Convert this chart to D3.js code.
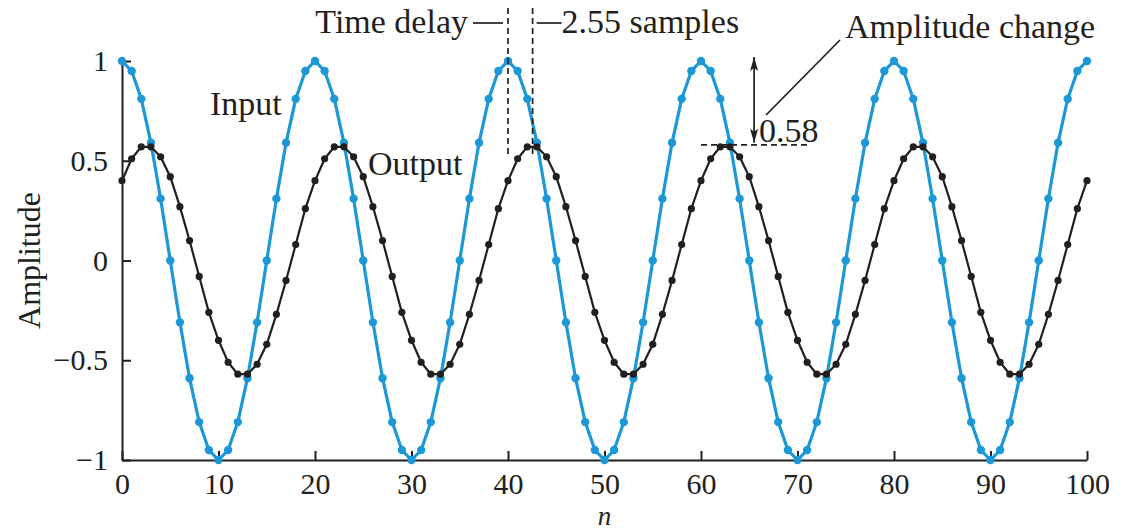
<!DOCTYPE html>
<html>
  <head>
    <meta charset="utf-8">
    <title>Time delay and amplitude change</title>
    <style>
      body { margin: 0; background: white; }
      text {
        font-family: "Liberation Serif", "Times New Roman", serif;
        fill: #231f20;
      }
      .axis path, .axis line {
        stroke: #231f20;
        stroke-width: 2;
        fill: none;
      }
      .axis text { font-size: 30px; }
      .note { font-size: 34px; }
      .guide { stroke: #231f20; stroke-width: 1.7; fill: none; }
      .dash { stroke-dasharray: 6 4; }
    </style>
    <script src="https://d3js.org/d3.v7.min.js"></script>
  </head>
  <body>
    <script>
      // sample index n = 0..100
      const samples = d3.range(0, 101);

      // input: unit-amplitude cosine, period 20 samples
      const input = [
        1, 0.95, 0.81, 0.59, 0.31, 0, -0.31, -0.59, -0.81, -0.95, -1, -0.95, -0.81, -0.59, -0.31, 0, 0.31, 0.59, 0.81, 0.95,
        1, 0.95, 0.81, 0.59, 0.31, 0, -0.31, -0.59, -0.81, -0.95, -1, -0.95, -0.81, -0.59, -0.31, 0, 0.31, 0.59, 0.81, 0.95,
        1, 0.95, 0.81, 0.59, 0.31, 0, -0.31, -0.59, -0.81, -0.95, -1, -0.95, -0.81, -0.59, -0.31, 0, 0.31, 0.59, 0.81, 0.95,
        1, 0.95, 0.81, 0.59, 0.31, 0, -0.31, -0.59, -0.81, -0.95, -1, -0.95, -0.81, -0.59, -0.31, 0, 0.31, 0.59, 0.81, 0.95,
        1, 0.95, 0.81, 0.59, 0.31, 0, -0.31, -0.59, -0.81, -0.95, -1, -0.95, -0.81, -0.59, -0.31, 0, 0.31, 0.59, 0.81, 0.95,
        1
      ];

      // output: amplitude 0.58, delayed 2.55 samples
      const output = [
        0.40, 0.51, 0.57, 0.57, 0.52, 0.42, 0.27, 0.10, -0.08, -0.26, -0.40, -0.51, -0.57, -0.57, -0.52, -0.42, -0.27, -0.10, 0.08, 0.26,
        0.40, 0.51, 0.57, 0.57, 0.52, 0.42, 0.27, 0.10, -0.08, -0.26, -0.40, -0.51, -0.57, -0.57, -0.52, -0.42, -0.27, -0.10, 0.08, 0.26,
        0.40, 0.51, 0.57, 0.57, 0.52, 0.42, 0.27, 0.10, -0.08, -0.26, -0.40, -0.51, -0.57, -0.57, -0.52, -0.42, -0.27, -0.10, 0.08, 0.26,
        0.40, 0.51, 0.57, 0.57, 0.52, 0.42, 0.27, 0.10, -0.08, -0.26, -0.40, -0.51, -0.57, -0.57, -0.52, -0.42, -0.27, -0.10, 0.08, 0.26,
        0.40, 0.51, 0.57, 0.57, 0.52, 0.42, 0.27, 0.10, -0.08, -0.26, -0.40, -0.51, -0.57, -0.57, -0.52, -0.42, -0.27, -0.10, 0.08, 0.26,
        0.40
      ];

      const xTicks = [0, 10, 20, 30, 40, 50, 60, 70, 80, 90, 100];
      const yTicks = [-1, -0.5, 0, 0.5, 1];
      const yTickLabels = ["\u22121", "\u22120.5", "0", "0.5", "1"];

      const delayStart = 40;
      const delaySamples = 2.55;
      const gainValue = 0.58;
      const gainAt = 65.5;

      const width = 1125, height = 531;
      const margin = { top: 61, right: 38, bottom: 71, left: 122 };

      const x = d3.scaleLinear().domain([0, 100]).range([margin.left, width - margin.right]);
      const y = d3.scaleLinear().domain([-1, 1]).range([height - margin.bottom, margin.top]);

      const svg = d3.select('body').append('svg')
        .attr('width', width)
        .attr('height', height);

      const defs = svg.append('defs');
      defs.append('marker')
        .attr('id', 'head')
        .attr('viewBox', '0 0 14 10')
        .attr('refX', 14).attr('refY', 5)
        .attr('markerWidth', 14).attr('markerHeight', 10)
        .attr('markerUnits', 'userSpaceOnUse')
        .attr('orient', 'auto-start-reverse')
        .append('path')
          .attr('d', 'M0,1 L14,5 L0,9 L3,5 Z')
          .attr('fill', '#231f20');

      // axes, ticks pointing inward
      svg.append('g')
        .attr('class', 'axis')
        .attr('transform', `translate(0,${y(-1)})`)
        .call(d3.axisBottom(x).tickValues(xTicks).tickSizeInner(-9).tickSizeOuter(0).tickPadding(13).tickFormat(d3.format('d')));

      svg.append('g')
        .attr('class', 'axis')
        .attr('transform', `translate(${x(0)},0)`)
        .call(d3.axisLeft(y).tickValues(yTicks).tickSizeInner(-9).tickSizeOuter(0).tickPadding(14)
          .tickFormat((d, i) => yTickLabels[i]));

      svg.selectAll('.axis .domain').attr('stroke-width', 2.4);

      // series
      const line = d3.line().x(d => x(d[0])).y(d => y(d[1]));
      const series = [
        { vals: input, color: '#1b98d5', width: 3.2, r: 4.2 },
        { vals: output, color: '#231f20', width: 2.2, r: 3.6 }
      ];
      series.forEach(s => {
        const pts = samples.map((n, i) => [n, s.vals[i]]);
        svg.append('path')
          .datum(pts)
          .attr('fill', 'none')
          .attr('stroke', s.color)
          .attr('stroke-width', s.width)
          .attr('stroke-linejoin', 'round')
          .attr('d', line);
        svg.append('g').selectAll('circle')
          .data(pts)
          .join('circle')
            .attr('cx', d => x(d[0]))
            .attr('cy', d => y(d[1]))
            .attr('r', s.r)
            .attr('fill', s.color);
      });

      // series labels
      svg.append('text').attr('class', 'note').attr('x', 210).attr('y', 115).text('Input');
      svg.append('text').attr('class', 'note').attr('x', 368).attr('y', 175).text('Output');

      // axis titles
      svg.append('text')
        .style('font-size', '32px')
        .attr('text-anchor', 'middle')
        .attr('transform', `translate(40,${y(0)}) rotate(-90)`)
        .text('Amplitude');

      svg.append('text')
        .attr('font-style', 'italic')
        .style('font-size', '27px')
        .attr('text-anchor', 'middle')
        .attr('x', x(50))
        .attr('y', 525)
        .text('n');

      // time delay annotation
      const ann = svg.append('g');
      [delayStart, delayStart + delaySamples].forEach(n => {
        ann.append('line').attr('class', 'guide dash')
          .attr('x1', x(n)).attr('x2', x(n))
          .attr('y1', 8).attr('y2', 157);
      });
      ann.append('line').attr('class', 'guide')
        .attr('x1', x(delayStart) - 35).attr('x2', x(delayStart) - 5)
        .attr('y1', 23).attr('y2', 23);
      ann.append('line').attr('class', 'guide')
        .attr('x1', x(delayStart + delaySamples) + 4).attr('x2', x(delayStart + delaySamples) + 29)
        .attr('y1', 23).attr('y2', 23);
      ann.append('text').attr('class', 'note')
        .attr('text-anchor', 'end')
        .attr('x', x(delayStart) - 40).attr('y', 33)
        .text('Time delay');
      ann.append('text').attr('class', 'note')
        .attr('x', x(delayStart + delaySamples) + 29).attr('y', 33)
        .text('2.55 samples');

      // amplitude change annotation
      ann.append('line').attr('class', 'guide dash')
        .attr('x1', x(60)).attr('x2', x(71))
        .attr('y1', y(gainValue)).attr('y2', y(gainValue));
      ann.append('line').attr('class', 'guide')
        .attr('stroke-width', 2)
        .attr('x1', x(gainAt)).attr('x2', x(gainAt))
        .attr('y1', y(gainValue) - 2).attr('y2', y(1) - 4)
        .attr('marker-start', 'url(#head)')
        .attr('marker-end', 'url(#head)');
      ann.append('text').attr('class', 'note')
        .attr('x', x(gainAt) + 5).attr('y', y(gainValue) - 3)
        .text('0.58');
      ann.append('line').attr('class', 'guide')
        .attr('x1', x(gainAt) + 12).attr('y1', 115)
        .attr('x2', 840).attr('y2', 40);
      ann.append('text').attr('class', 'note')
        .attr('x', 845).attr('y', 38)
        .text('Amplitude change');
    </script>
  </body>
</html>
